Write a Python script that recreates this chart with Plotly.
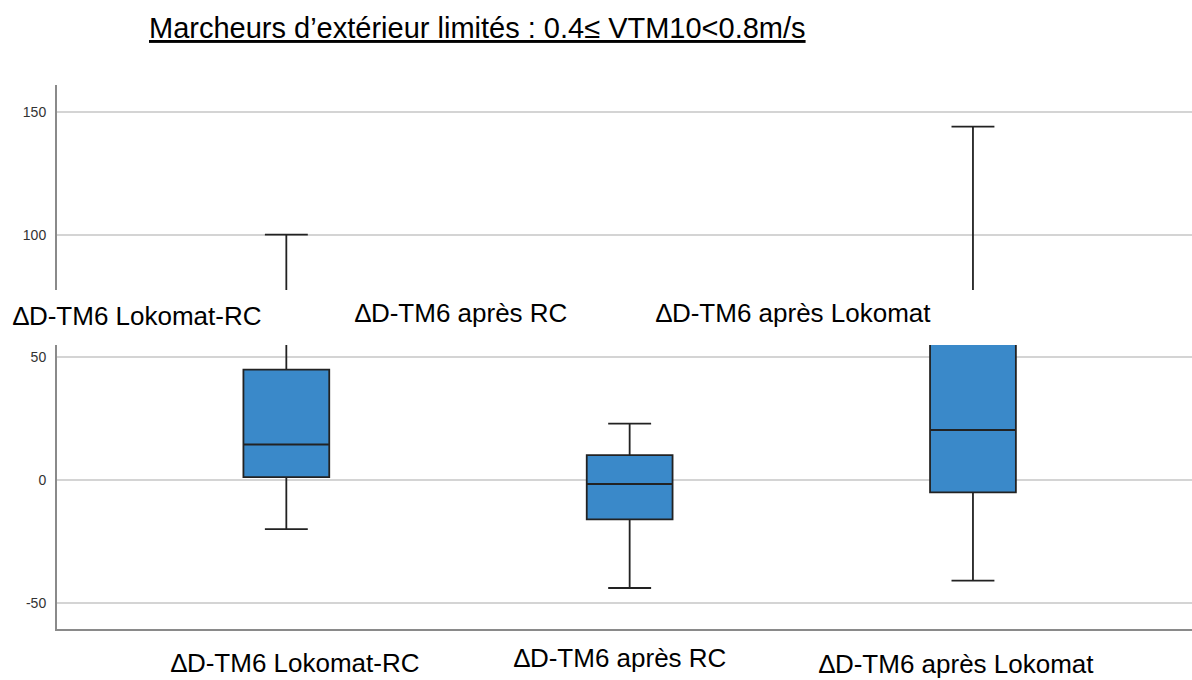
import plotly.graph_objects as go

# Data
categories = ["∆D-TM6 Lokomat-RC", "∆D-TM6 après RC", "∆D-TM6 après Lokomat"]
lower_whisker = [-20, -44, -41]
q1_values = [1.2, -16, -5]
medians = [14.5, -1.6, 20.4]
q3_values = [45, 10.2, 65]
upper_whisker = [100, 23, 144]
y_ticks = [-50, 0, 50, 100, 150]
y_tick_labels = ["-50", "0", "50", "100", "150"]
title_text = "Marcheurs d’extérieur limités : 0.4≤ VTM10<0.8m/s"

W, H = 1192, 680
L, R, T, B = 57, 0, 85, 51
pw, ph = W - L - R, H - T - B

def px(x):
    return (x - L) / pw

def py(y):
    return (H - B - y) / ph

fig = go.Figure()
for i, cat in enumerate(categories):
    fig.add_trace(go.Box(
        x=[i],
        q1=[q1_values[i]], median=[medians[i]], q3=[q3_values[i]],
        lowerfence=[lower_whisker[i]], upperfence=[upper_whisker[i]],
        fillcolor="#3a89c9",
        line=dict(color="#222222", width=1.8),
        width=0.25,
        whiskerwidth=0.5,
        boxpoints=False,
        hoverinfo="skip",
        showlegend=False,
        name=cat,
    ))

fig.update_layout(
    width=W, height=H,
    margin=dict(l=L, r=R, t=T, b=B),
    paper_bgcolor="white", plot_bgcolor="white",
    font=dict(family="Liberation Sans, Arial, sans-serif", color="#000"),
    xaxis=dict(range=[-0.668, 2.638], showticklabels=False, showgrid=False,
               zeroline=False, showline=True, linecolor="#8a8a8a", linewidth=2,
               ticks=""),
    yaxis=dict(range=[-60.7, 161], tickvals=y_ticks, ticktext=y_tick_labels,
               showgrid=True, gridcolor="#d4d4d4", gridwidth=2, zeroline=False,
               showline=True, linecolor="#8a8a8a", linewidth=2, ticks="",
               tickfont=dict(size=14, color="#333333"), ticklabelstandoff=6),
)

# White band covering the plot
fig.add_shape(type="rect", xref="paper", yref="paper",
              x0=px(-5), x1=px(W + 5), y0=py(345), y1=py(290),
              fillcolor="white", line=dict(width=0), layer="above")

band_pos = [(137, 316), (461, 313), (793, 313)]
bottom_pos = [(295, 663), (620, 658), (957, 664)]
for cat, (x, y) in zip(categories, band_pos):
    fig.add_annotation(text=cat, xref="paper", yref="paper", x=px(x), y=py(y),
                       xanchor="center", yanchor="middle", showarrow=False,
                       font=dict(size=26, color="#000"))
for cat, (x, y) in zip(categories, bottom_pos):
    fig.add_annotation(text=cat, xref="paper", yref="paper", x=px(x), y=py(y),
                       xanchor="center", yanchor="middle", showarrow=False,
                       font=dict(size=26, color="#000"))

fig.add_annotation(text="<u>" + title_text + "</u>", xref="paper", yref="paper",
                   x=px(478), y=py(28), xanchor="center", yanchor="middle",
                   showarrow=False, font=dict(size=29, color="#000"))

fig.write_html("out.html", config={"displayModeBar": False},
               post_script="document.body.style.margin='0px';")
